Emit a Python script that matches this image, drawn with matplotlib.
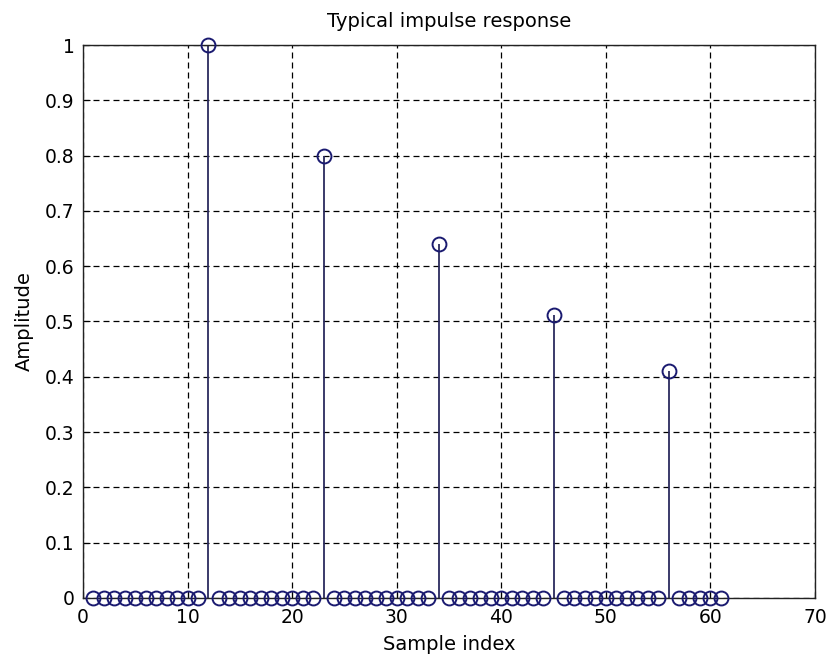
import matplotlib
matplotlib.use("Agg")
import matplotlib.pyplot as plt

# samples 1..61, decaying echo every 11 samples
sample_index = list(range(1, 62))
amplitude = [
    0, 0, 0, 0, 0, 0, 0, 0, 0, 0, 0, 1.0,
    0, 0, 0, 0, 0, 0, 0, 0, 0, 0, 0.8,
    0, 0, 0, 0, 0, 0, 0, 0, 0, 0, 0.64,
    0, 0, 0, 0, 0, 0, 0, 0, 0, 0, 0.512,
    0, 0, 0, 0, 0, 0, 0, 0, 0, 0, 0.41,
    0, 0, 0, 0, 0,
]

x_ticks = [0, 10, 20, 30, 40, 50, 60, 70]
y_ticks = [0, 0.1, 0.2, 0.3, 0.4, 0.5, 0.6, 0.7, 0.8, 0.9, 1]
y_labels = ["0", "0.1", "0.2", "0.3", "0.4", "0.5", "0.6", "0.7", "0.8", "0.9", "1"]

stem_color = "#2b2b5e"
mark_color = "#1a1a70"

fig = plt.figure(figsize=(8.27, 6.58), dpi=100)
ax = fig.add_axes([0.1004, 0.0912, 0.885, 0.8404])

markers, stems, base = ax.stem(sample_index, amplitude, basefmt=" ")
plt.setp(stems, color=stem_color, linewidth=1.3)
plt.setp(markers, marker="o", markersize=10, markerfacecolor="none",
         markeredgecolor=mark_color, markeredgewidth=1.4, clip_on=False, zorder=4)

ax.set_xlim(0, 70)
ax.set_ylim(0, 1)
ax.set_xticks(x_ticks)
ax.set_yticks(y_ticks)
ax.set_yticklabels(y_labels)
ax.grid(True, color="black", linestyle=(0, (4.8, 3.2)), linewidth=0.9)
ax.set_axisbelow(True)
ax.tick_params(direction="in", length=5, labelsize=13.5, colors="black")
ax.tick_params(axis="x", pad=7)
ax.tick_params(axis="y", pad=6)
for s in ax.spines.values():
    s.set_linewidth(1.0)
    s.set_color("#222222")

ax.set_title("Typical impulse response", fontsize=14, pad=13)
ax.set_xlabel("Sample index", fontsize=14, labelpad=6)
ax.set_ylabel("Amplitude", fontsize=14, labelpad=8)

fig.savefig("out.png", dpi=100)
